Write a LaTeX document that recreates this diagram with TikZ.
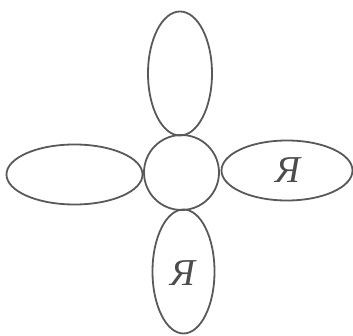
\documentclass[tikz,border=0pt]{standalone}
\usepackage{fontspec}
\setmainfont{Liberation Serif}
\usepackage{tikz}
\usetikzlibrary{shapes.geometric}

\begin{document}
\begin{tikzpicture}[
    x=1pt, y=-1pt,
    petal/.style={draw=black!65, line width=1.8pt, ellipse, inner sep=0pt},
    hpetal/.style={petal, minimum width=136pt, minimum height=60pt},
    vpetal/.style={petal, minimum width=64pt, minimum height=124pt},
    ya/.style={font=\fontsize{38}{42}\selectfont\itshape, text=black!70}
]
\useasboundingbox (0,0) rectangle (353,336);

% Centre
\node[petal, circle, minimum size=75pt] (core) at (181.5, 172.5) {};

% Petals
\node[vpetal] (top) at (180, 73.5) {};
\node[hpetal] (left) at (74.5, 174.5) {};
\node[hpetal, minimum width=131pt] (right) at (287, 170.5) {};
\node[vpetal, minimum width=62pt] (bottom) at (183.5, 271.5) {};

% Labels
\node[ya] (rlabel) at (288, 170) {Я};
\node[ya] (blabel) at (183, 273) {Я};

\end{tikzpicture}
\end{document}
